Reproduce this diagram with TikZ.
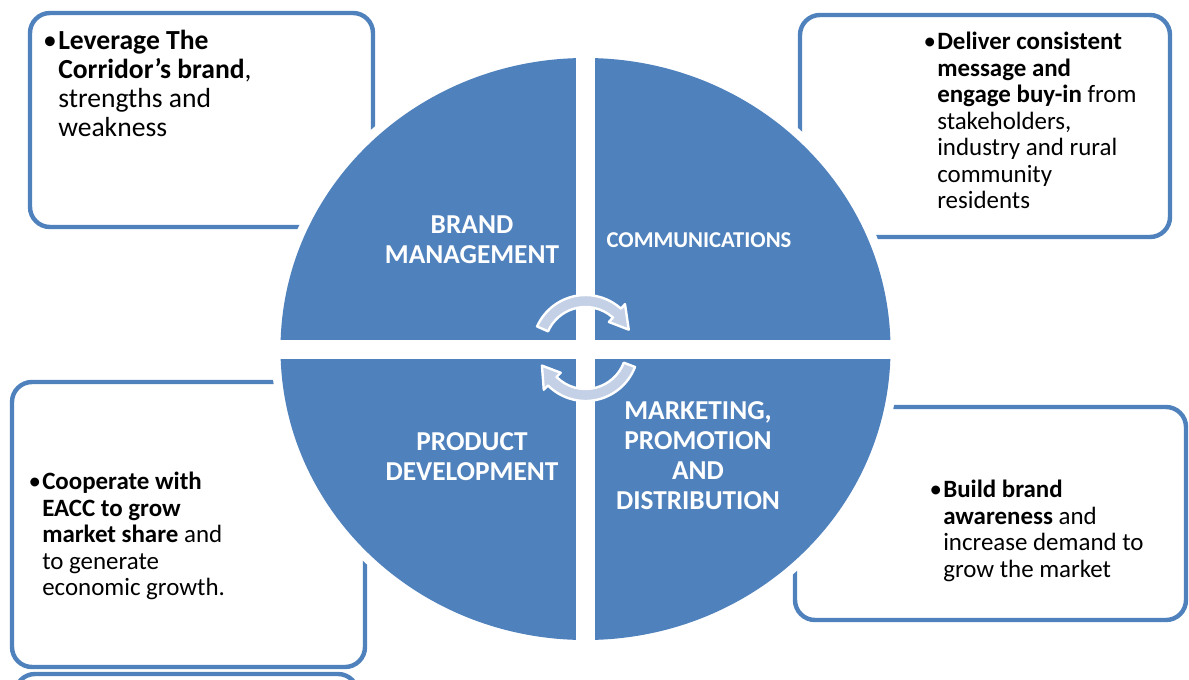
\documentclass[tikz,border=0pt]{standalone}
\usepackage{fontspec}
\setmainfont{Carlito}
\usetikzlibrary{calc,positioning}

\definecolor{quadblue}{RGB}{79,129,189}
\definecolor{arrowfill}{RGB}{196,208,230}

\begin{document}
\begin{tikzpicture}[x=0.75pt,y=-0.75pt]

\tikzset{bluebox/.style={draw=quadblue,line width=3.3pt,fill=white,rounded corners=15pt},
bodytext/.style={font=\fontsize{18.7}{19.9}\selectfont,align=left,inner sep=0pt,anchor=north west},
quadlabel/.style={font=\bfseries\fontsize{20.5}{22.5}\selectfont,text=white,align=center,inner sep=0pt},
cyclearrow/.style={fill=arrowfill,draw=white,line width=1.8pt,line join=round}}

\useasboundingbox (0,0) rectangle (1189,679);

% Text boxes
\draw[bluebox] (30,13) rectangle (373,227);
\draw[bluebox] (800,15) rectangle (1170,237);
\draw[bluebox] (12,382) rectangle (365,667);
\draw[bluebox] (795,407) rectangle (1186,620);
\draw[bluebox] (15,674) rectangle (358,780);

% Box texts
\node (brandText) [bodytext,font=\fontsize{20.7}{21.75}\selectfont] at (58,30) {\llap{\textbullet\hspace{1pt}}\textbf{Leverage The}\\ \textbf{Corridor\symbol{"27}s brand},\\ strengths and\\ weakness};
\node (commText) [bodytext] at (937,32) {\llap{\textbullet\hspace{1pt}}\textbf{Deliver consistent}\\ \textbf{message and}\\ \textbf{engage buy-in} from\\ stakeholders,\\ industry and rural\\ community\\ residents};
\node (productText) [bodytext] at (42,472) {\llap{\textbullet\hspace{1pt}}\textbf{Cooperate with}\\ \textbf{EACC to grow}\\ \textbf{market share} and\\ to generate\\ economic growth.};
\node (marketText) [bodytext] at (943,480) {\llap{\textbullet\hspace{1pt}}\textbf{Build brand}\\ \textbf{awareness} and\\ increase demand to\\ grow the market};

% Circle and quadrants
\coordinate (centre) at (585.5,349);
\fill[white] (centre) ellipse [x radius=314, y radius=300];
\fill[quadblue] (centre) ellipse [x radius=305, y radius=291];
\begin{scope}
\clip (centre) ellipse [x radius=314, y radius=300];
\fill[white] (576,0) rectangle (595,679);
\fill[white] (0,340) rectangle (1189,359);
\end{scope}

% Quadrant labels
\node (brandLabel) [quadlabel] at (472,240) {BRAND\\MANAGEMENT};
\node (commLabel) [quadlabel,font=\bfseries\fontsize{17}{20}\selectfont] at (699,240) {COMMUNICATIONS};
\node (productLabel) [quadlabel] at (472,457) {PRODUCT\\DEVELOPMENT};
\node (marketLabel) [quadlabel] at (698,456) {MARKETING,\\PROMOTION\\AND\\DISTRIBUTION};

% Cycle arrows
\coordinate (cycleCentre) at (585.5,348);
\draw[cyclearrow] ($(cycleCentre)+(204:53)$) arc[start angle=204,end angle=312,radius=53] -- ($(cycleCentre)+(312:59)$) -- ($(cycleCentre)+(337:47)$) -- ($(cycleCentre)+(312:35)$) -- ($(cycleCentre)+(312:41)$) arc[start angle=312,end angle=204,radius=41] -- cycle;
\draw[cyclearrow] ($(cycleCentre)+(21:53)$) arc[start angle=21,end angle=135,radius=53] -- ($(cycleCentre)+(135:59)$) -- ($(cycleCentre)+(158:47)$) -- ($(cycleCentre)+(135:35)$) -- ($(cycleCentre)+(135:41)$) arc[start angle=135,end angle=21,radius=41] -- cycle;

\end{tikzpicture}
\end{document}
